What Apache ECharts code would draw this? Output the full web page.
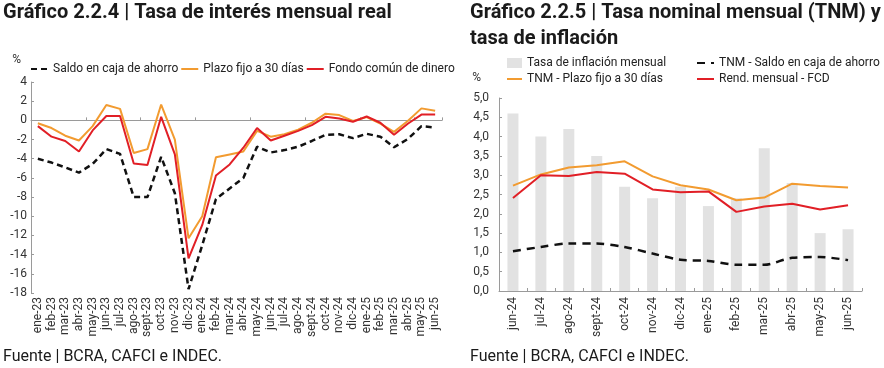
<!DOCTYPE html>
<html>
<head>
<meta charset="utf-8">
<script src="https://cdn.jsdelivr.net/npm/echarts@6/dist/echarts.min.js"></script>
<style>
  html, body { margin: 0; padding: 0; background: #fff; }
  #chart { width: 884px; height: 368px; }
</style>
</head>
<body>
<div id="chart"></div>
<script>
// Gráfico 2.2.4 - tasa de interés mensual real
const meses1 = ['ene-23', 'feb-23', 'mar-23', 'abr-23', 'may-23', 'jun-23', 'jul-23', 'ago-23', 'sept-23', 'oct-23',
  'nov-23', 'dic-23', 'ene-24', 'feb-24', 'mar-24', 'abr-24', 'may-24', 'jun-24', 'jul-24', 'ago-24',
  'sept-24', 'oct-24', 'nov-24', 'dic-24', 'ene-25', 'feb-25', 'mar-25', 'abr-25', 'may-25', 'jun-25']
const saldoReal = [-4.0, -4.4, -4.9, -5.45, -4.55, -3.0, -3.5, -8.0, -8.0, -3.8,
  -7.6, -17.6, -13.0, -8.2, -7.1, -6.0, -2.75, -3.35, -3.1, -2.75,
  -2.15, -1.5, -1.45, -1.85, -1.4, -1.7, -2.8, -1.95, -0.6, -0.75]
const plazoReal = [-0.3, -0.8, -1.6, -2.1, -0.6, 1.6, 1.2, -3.4, -3.0, 1.65,
  -2.0, -12.3, -10.0, -3.85, -3.55, -3.25, -1.1, -1.7, -1.45, -0.97,
  -0.25, 0.7, 0.55, -0.07, 0.34, -0.35, -1.2, -0.07, 1.25, 1.0]
const fondoReal = [-0.6, -1.7, -2.15, -3.25, -1.05, 0.45, 0.45, -4.5, -4.65, 0.37,
  -3.55, -14.4, -10.9, -5.75, -4.6, -2.85, -0.8, -2.1, -1.6, -1.1,
  -0.5, 0.37, 0.2, -0.15, 0.4, -0.25, -1.5, -0.35, 0.6, 0.6]

// Gráfico 2.2.5 - TNM y tasa de inflación
const meses2 = ['jun-24', 'jul-24', 'ago-24', 'sept-24', 'oct-24', 'nov-24', 'dic-24', 'ene-25', 'feb-25', 'mar-25', 'abr-25', 'may-25', 'jun-25']
const inflacion = [4.6, 4.0, 4.2, 3.5, 2.7, 2.4, 2.7, 2.2, 2.4, 3.7, 2.8, 1.5, 1.6]
const tnmPlazo = [2.73, 3.02, 3.2, 3.26, 3.36, 2.97, 2.74, 2.63, 2.35, 2.42, 2.78, 2.72, 2.68]
const tnmSaldo = [1.03, 1.14, 1.23, 1.23, 1.14, 0.97, 0.81, 0.78, 0.68, 0.68, 0.86, 0.88, 0.8]
const rendFcd = [2.41, 3.0, 2.98, 3.08, 3.04, 2.63, 2.56, 2.58, 2.05, 2.19, 2.26, 2.11, 2.22]

const NARANJA = '#f29b30'
const ROJO = '#e11f26'
const GRIS_EJE = '#9a9a9a'
const FONT = 'Roboto'

const chart = echarts.init(document.getElementById('chart'))

const ejeLabel = { color: '#333', fontSize: 12, fontFamily: FONT }
const legendText = { fontSize: 12, color: '#222', fontFamily: FONT }
// oculta el circulito que dibuja la leyenda de las series de línea
const sinSimbolo = { opacity: 0 }

const option = {
  backgroundColor: '#fff',
  textStyle: { fontFamily: FONT },
  animation: false,
  title: [
    {
      text: 'Gráfico 2.2.4 | Tasa de interés mensual real',
      left: 3, top: 0, padding: 0,
      textStyle: { fontSize: 20, fontWeight: 'bold', color: '#1a1a1a', fontFamily: FONT, lineHeight: 26 }
    },
    {
      text: 'Gráfico 2.2.5 | Tasa nominal mensual (TNM) y\ntasa de inflación',
      left: 470, top: 0, padding: 0,
      textStyle: { fontSize: 20, fontWeight: 'bold', color: '#1a1a1a', fontFamily: FONT, lineHeight: 26 }
    },
    {
      text: 'Fuente | BCRA, CAFCI e INDEC.',
      left: 3, top: 349, padding: 0,
      textStyle: { fontSize: 16, fontWeight: 'normal', color: '#1a1a1a', fontFamily: FONT }
    },
    {
      text: 'Fuente | BCRA, CAFCI e INDEC.',
      left: 470, top: 349, padding: 0,
      textStyle: { fontSize: 16, fontWeight: 'normal', color: '#1a1a1a', fontFamily: FONT }
    }
  ],
  legend: [
    {
      data: ['Saldo en caja de ahorro', 'Plazo fijo a 30 días', 'Fondo común de dinero'],
      left: 30, top: 63, padding: 0,
      itemGap: 2, itemWidth: 17, itemHeight: 10,
      itemStyle: sinSimbolo,
      textStyle: legendText
    },
    {
      data: [
        { name: 'Tasa de inflación mensual', icon: 'rect', itemStyle: { opacity: 1 } },
        'TNM - Plazo fijo a 30 días'
      ],
      orient: 'vertical',
      left: 506, top: 57, padding: 0,
      itemGap: 4, itemWidth: 15, itemHeight: 10,
      itemStyle: sinSimbolo,
      textStyle: legendText
    },
    {
      data: ['TNM - Saldo en caja de ahorro', 'Rend. mensual - FCD'],
      orient: 'vertical',
      left: 696, top: 57, padding: 0,
      itemGap: 4, itemWidth: 17, itemHeight: 10,
      itemStyle: sinSimbolo,
      textStyle: legendText
    }
  ],
  grid: [
    { left: 31, top: 82, width: 411, height: 211 },
    { left: 499, top: 98, width: 363, height: 193 }
  ],
  xAxis: [
    {
      // etiquetas abajo
      gridIndex: 0, type: 'category', data: meses1, position: 'bottom',
      axisLine: { show: false, onZero: false },
      axisTick: { show: false },
      axisLabel: { ...ejeLabel, rotate: 90, margin: 4, interval: 0 }
    },
    {
      // línea en el cero
      gridIndex: 0, type: 'category', data: meses1, position: 'top',
      axisLine: { show: true, onZero: true, lineStyle: { color: GRIS_EJE, width: 1 } },
      axisTick: { show: true, length: 3, lineStyle: { color: GRIS_EJE } },
      axisLabel: { show: false }
    },
    {
      gridIndex: 1, type: 'category', data: meses2,
      axisLine: { lineStyle: { color: GRIS_EJE, width: 1 } },
      axisTick: { show: true, inside: true, length: 3, lineStyle: { color: GRIS_EJE } },
      axisLabel: { ...ejeLabel, rotate: 90, margin: 6, interval: 0 }
    }
  ],
  yAxis: [
    {
      gridIndex: 0, type: 'value', min: -18, max: 4, interval: 2,
      name: '%', nameLocation: 'end', nameGap: 16,
      nameTextStyle: { ...ejeLabel, align: 'right', padding: [0, 10, 0, 0] },
      axisLine: { show: true, lineStyle: { color: GRIS_EJE } },
      axisTick: { show: true, inside: true, length: 3, lineStyle: { color: GRIS_EJE } },
      axisLabel: { ...ejeLabel, margin: 4 },
      splitLine: { show: false }
    },
    {
      gridIndex: 1, type: 'value', min: 0, max: 5, interval: 0.5,
      name: '%', nameLocation: 'end', nameGap: 14,
      nameTextStyle: { ...ejeLabel, align: 'right', padding: [0, 18, 0, 0] },
      axisLine: { show: true, lineStyle: { color: GRIS_EJE } },
      axisTick: { show: true, inside: true, length: 3, lineStyle: { color: GRIS_EJE } },
      axisLabel: { ...ejeLabel, margin: 10, formatter: v => v.toFixed(1).replace('.', ',') },
      splitLine: { show: false }
    }
  ],
  series: [
    {
      name: 'Saldo en caja de ahorro', type: 'line', xAxisIndex: 0, yAxisIndex: 0,
      data: saldoReal, symbol: 'none',
      lineStyle: { color: '#111', width: 2.5, type: [6, 4] }, itemStyle: { color: '#111' }
    },
    {
      name: 'Plazo fijo a 30 días', type: 'line', xAxisIndex: 0, yAxisIndex: 0,
      data: plazoReal, symbol: 'none',
      lineStyle: { color: NARANJA, width: 2 }, itemStyle: { color: NARANJA }
    },
    {
      name: 'Fondo común de dinero', type: 'line', xAxisIndex: 0, yAxisIndex: 0,
      data: fondoReal, symbol: 'none',
      lineStyle: { color: ROJO, width: 2 }, itemStyle: { color: ROJO }
    },
    {
      name: 'Tasa de inflación mensual', type: 'bar', xAxisIndex: 2, yAxisIndex: 1,
      data: inflacion, barWidth: 11,
      itemStyle: { color: '#e2e2e2' }
    },
    {
      name: 'TNM - Plazo fijo a 30 días', type: 'line', xAxisIndex: 2, yAxisIndex: 1,
      data: tnmPlazo, symbol: 'none',
      lineStyle: { color: NARANJA, width: 2 }, itemStyle: { color: NARANJA }
    },
    {
      name: 'TNM - Saldo en caja de ahorro', type: 'line', xAxisIndex: 2, yAxisIndex: 1,
      data: tnmSaldo, symbol: 'none', smooth: 0.3,
      lineStyle: { color: '#111', width: 2.5, type: [8, 6] }, itemStyle: { color: '#111' }
    },
    {
      name: 'Rend. mensual - FCD', type: 'line', xAxisIndex: 2, yAxisIndex: 1,
      data: rendFcd, symbol: 'none',
      lineStyle: { color: ROJO, width: 2 }, itemStyle: { color: ROJO }
    }
  ]
}

chart.setOption(option)
</script>
</body>
</html>
